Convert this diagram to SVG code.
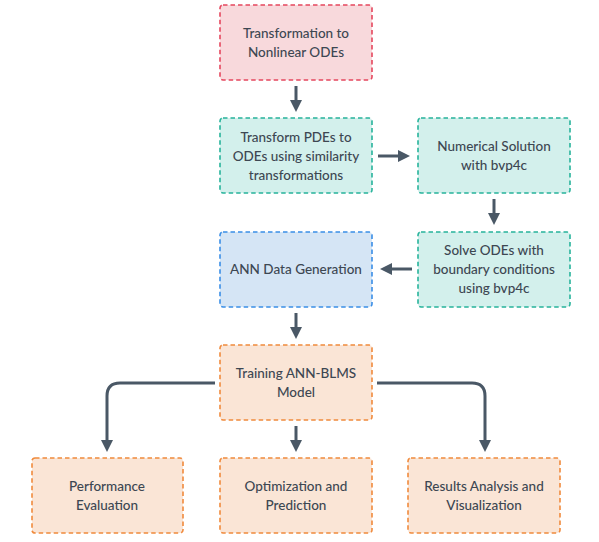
<svg xmlns="http://www.w3.org/2000/svg" width="599" height="542" viewBox="0 0 599 542">
<defs>
<style>
.n{stroke-width:1.6;stroke-dasharray:4.5 3}
.pink{fill:#f8d9dc;stroke:#e5475e}
.teal{fill:#d3f0ec;stroke:#27b39b}
.blue{fill:#d5e5f5;stroke:#3a8ee6}
.org{fill:#fae5d6;stroke:#f08a3c}
text{font-family:"Lato","Open Sans",sans-serif;font-size:13.5px;fill:#3d4752;text-anchor:middle;font-weight:500}
.c{fill:none;stroke:#4a5866;stroke-width:3}
</style>
<marker id="ah" viewBox="0 0 10 10" refX="5" refY="5" markerWidth="4" markerHeight="4" markerUnits="strokeWidth" orient="auto">
<path d="M0,0 L10,5 L0,10 z" fill="#4a5866"/>
</marker>
</defs>
<rect width="599" height="542" fill="#fff"/>
<g id="connectors">
<path class="c" d="M296,86 V106" marker-end="url(#ah)"/>
<path class="c" d="M378,156 H404" marker-end="url(#ah)"/>
<path class="c" d="M494,199 V219" marker-end="url(#ah)"/>
<path class="c" d="M412,269 H386" marker-end="url(#ah)"/>
<path class="c" d="M296,313 V333" marker-end="url(#ah)"/>
<path class="c" d="M296,426 V446" marker-end="url(#ah)"/>
<path class="c" d="M215,383 H120 Q107,383 107,396 V446" marker-end="url(#ah)"/>
<path class="c" d="M377,383 H472 Q485,383 485,396 V446" marker-end="url(#ah)"/>
</g>
<g id="n1"><rect class="n pink" x="220" y="5" width="152" height="75" rx="3"/><text x="296" y="38">Transformation to</text><text x="296" y="57">Nonlinear ODEs</text></g>
<g id="n2"><rect class="n teal" x="220" y="118" width="152" height="75" rx="3"/><text x="296" y="142">Transform PDEs to</text><text x="296" y="161">ODEs using similarity</text><text x="296" y="180">transformations</text></g>
<g id="n3"><rect class="n teal" x="418" y="118" width="152" height="75" rx="3"/><text x="494" y="151">Numerical Solution</text><text x="494" y="170">with bvp4c</text></g>
<g id="n4"><rect class="n teal" x="418" y="232" width="152" height="75" rx="3"/><text x="494" y="255">Solve ODEs with</text><text x="494" y="274">boundary conditions</text><text x="494" y="293">using bvp4c</text></g>
<g id="n5"><rect class="n blue" x="220" y="232" width="152" height="75" rx="3"/><text x="296" y="274">ANN Data Generation</text></g>
<g id="n6"><rect class="n org" x="220" y="345" width="152" height="75" rx="3"/><text x="296" y="378">Training ANN-BLMS</text><text x="296" y="397">Model</text></g>
<g id="n7"><rect class="n org" x="32" y="458" width="151" height="75" rx="3"/><text x="107" y="491">Performance</text><text x="107" y="510">Evaluation</text></g>
<g id="n8"><rect class="n org" x="220" y="458" width="152" height="75" rx="3"/><text x="296" y="491">Optimization and</text><text x="296" y="510">Prediction</text></g>
<g id="n9"><rect class="n org" x="408" y="458" width="152" height="75" rx="3"/><text x="484" y="491">Results Analysis and</text><text x="484" y="510">Visualization</text></g>
</svg>
